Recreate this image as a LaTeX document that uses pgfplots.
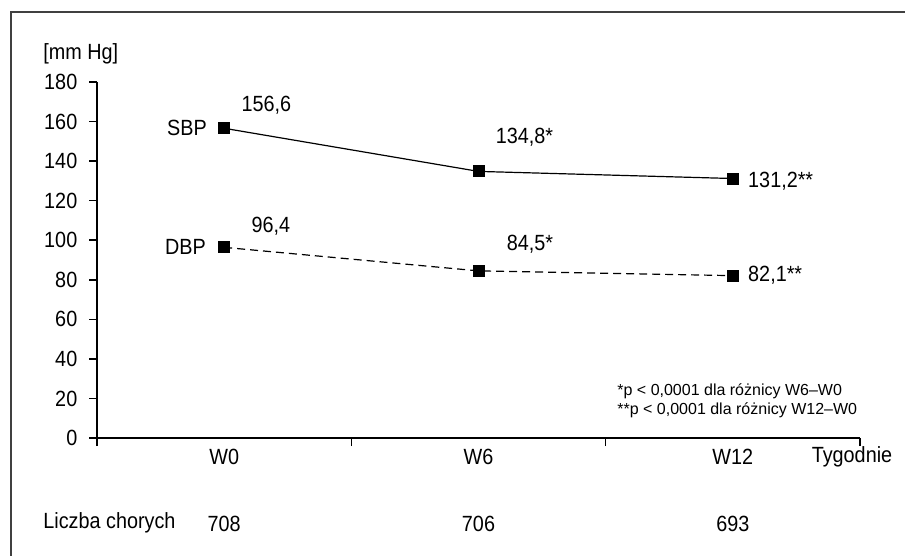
\documentclass[border=0pt]{standalone}
\usepackage{fontspec}
\setmainfont{Liberation Sans}[FakeStretch=0.9]
\newfontfamily\notefont{Liberation Sans}
\usepackage{pgfplots}
\pgfplotsset{compat=1.18}
\begin{document}
\fontsize{11}{13}\selectfont
\begin{tikzpicture}
\useasboundingbox (0,0) rectangle (452.5pt,-278pt);
\draw[black!75, line width=0.75pt] (5.5pt,-280pt) -- (5.5pt,-6pt) -- (455pt,-6pt);
\begin{axis}[
  at={(48.5pt,-219pt)}, anchor=south west,
  scale only axis, width=381.5pt, height=178pt,
  xmin=-0.5, xmax=2.5, ymin=0, ymax=180,
  axis x line=bottom, axis y line=left,
  axis line style={-, line width=0.8pt},
  xtick={-0.5,0.5,1.5,2.5}, xticklabels={},
  ytick={0,20,...,180},
  tick align=outside, major tick length=4pt,
  tick style={line width=0.8pt, black},
  every tick label/.append style={font=\fontsize{11}{13}\selectfont},
  yticklabel style={xshift=-2pt},
  /pgf/number format/assume math mode=true,
  clip=false,
  every node/.append style={font=\fontsize{11}{13}\selectfont},
]
\addplot[black, line width=0.6pt, mark=square*, mark size=2.7pt, mark options={solid}]
  coordinates {(0,156.6) (1,134.8) (2,131.2)};
\addplot[black, line width=0.6pt, dash pattern=on 4pt off 2.5pt, mark=square*, mark size=2.7pt, mark options={solid}]
  coordinates {(0,96.4) (1,84.5) (2,82.1)};
\node[anchor=west, inner sep=0, xshift=8.5pt, yshift=11.5pt] at (axis cs:0,156.6) {156,6};
\node[anchor=west, inner sep=0, xshift=8.5pt, yshift=17pt] at (axis cs:1,134.8) {134,8*};
\node[anchor=west, inner sep=0, xshift=7.5pt, yshift=-1.2pt] at (axis cs:2,131.2) {131,2**};
\node[anchor=west, inner sep=0, xshift=13.5pt, yshift=10.5pt] at (axis cs:0,96.4) {96,4};
\node[anchor=west, inner sep=0, xshift=14pt, yshift=13.5pt] at (axis cs:1,84.5) {84,5*};
\node[anchor=west, inner sep=0, xshift=7.5pt, yshift=0pt] at (axis cs:2,82.1) {82,1**};
\node[anchor=east, inner sep=0, xshift=-8.5pt] at (axis cs:0,156.6) {SBP};
\node[anchor=east, inner sep=0, xshift=-9pt] at (axis cs:0,96.4) {DBP};
\node[inner sep=0, yshift=-9.5pt] at (axis cs:0,0) {W0};
\node[inner sep=0, yshift=-9.5pt] at (axis cs:1,0) {W6};
\node[inner sep=0, yshift=-9.5pt] at (axis cs:2,0) {W12};
\node[inner sep=0, yshift=-9.5pt, xshift=-4pt] at (axis cs:2.5,0) {Tygodnie};
\node[inner sep=0, yshift=-43pt] at (axis cs:0,0) {708};
\node[inner sep=0, yshift=-43pt] at (axis cs:1,0) {706};
\node[inner sep=0, yshift=-43pt] at (axis cs:2,0) {693};
\end{axis}
\node[anchor=west, inner sep=0] at (21.5pt,-27pt) {[mm Hg]};
\node[anchor=west, inner sep=0] at (21.5pt,-261.5pt) {Liczba chorych};
\node[anchor=west, inner sep=0, font=\notefont\fontsize{8}{9}\selectfont] at (308.5pt,-195.5pt) {*p < 0,0001 dla różnicy W6–W0};
\node[anchor=west, inner sep=0, font=\notefont\fontsize{8}{9}\selectfont] at (308.5pt,-205pt) {**p < 0,0001 dla różnicy W12–W0};
\end{tikzpicture}
\end{document}
